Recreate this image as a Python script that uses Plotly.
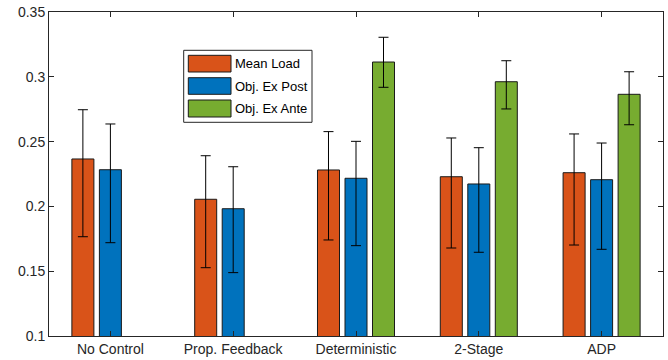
import plotly.graph_objects as go

categories = ["No Control", "Prop. Feedback", "Deterministic", "2-Stage", "ADP"]
series_names = ["Mean Load", "Obj. Ex Post", "Obj. Ex Ante"]

mean_load = [0.2366, 0.2055, 0.2281, 0.2229, 0.2260]
mean_load_hi = [0.2746, 0.2391, 0.2577, 0.2528, 0.2559]
mean_load_lo = [0.1766, 0.1527, 0.1741, 0.1679, 0.1702]

ex_post = [0.2283, 0.1982, 0.2217, 0.2173, 0.2206]
ex_post_hi = [0.2636, 0.2306, 0.2502, 0.2453, 0.2489]
ex_post_lo = [0.1720, 0.1489, 0.1697, 0.1646, 0.1669]

ex_ante = [None, None, 0.3114, 0.2962, 0.2865]
ex_ante_hi = [None, None, 0.3305, 0.3124, 0.3039]
ex_ante_lo = [None, None, 0.2919, 0.2752, 0.2630]

y_ticks = [0.1, 0.15, 0.2, 0.25, 0.3, 0.35]
y_tick_labels = ["0.1", "0.15", "0.2", "0.25", "0.3", "0.35"]

colors = ["#D95319", "#0072BD", "#77AC30"]

fig = go.Figure()
data = [(mean_load, mean_load_hi, mean_load_lo),
        (ex_post, ex_post_hi, ex_post_lo),
        (ex_ante, ex_ante_hi, ex_ante_lo)]
for name, (v, hi, lo), c in zip(series_names, data, colors):
    plus = [None if a is None else h - a for a, h in zip(v, hi)]
    minus = [None if a is None else a - l for a, l in zip(v, lo)]
    fig.add_trace(go.Bar(
        x=categories, y=v, name=name,
        marker=dict(color=c, line=dict(color="#1a1a1a", width=1)),
        error_y=dict(type="data", symmetric=False, array=plus, arrayminus=minus,
                     color="#000000", thickness=1, width=5),
        showlegend=False,
    ))

# manual MATLAB-style legend
lx0, lx1 = 183.7, 312.0
ly0, ly1 = 50.3, 122.3
W, H = 668, 360
ml, mr, mt, mb = 49, 5, 12, 24
pw, ph = W - ml - mr, H - mt - mb

def px(x):
    return (x - ml) / pw

def py(y):
    return 1 - (y - mt) / ph

fig.add_shape(type="rect", xref="paper", yref="paper",
              x0=px(lx0), x1=px(lx1), y0=py(ly1), y1=py(ly0),
              line=dict(color="#262626", width=1), fillcolor="white")
rows = [(55.3, 72.0), (77.7, 94.3), (100.0, 117.0)]
for name, c, (r0, r1) in zip(series_names, colors, rows):
    fig.add_shape(type="rect", xref="paper", yref="paper",
                  x0=px(188.3), x1=px(231.0), y0=py(r1), y1=py(r0),
                  line=dict(color="#1a1a1a", width=1), fillcolor=c)
    fig.add_annotation(xref="paper", yref="paper", x=px(233), y=py((r0 + r1) / 2),
                       text=name, showarrow=False, xanchor="left", yanchor="middle",
                       font=dict(family="Liberation Sans, Arial", size=13, color="#000000"))

axis_common = dict(showline=True, linecolor="#262626", linewidth=1, mirror="ticks",
                   ticks="inside", ticklen=5, tickcolor="#262626", showgrid=False,
                   zeroline=False, automargin=False,
                   tickfont=dict(family="Liberation Sans, Arial", size=14, color="#262626"))

fig.update_layout(
    width=W, height=H,
    margin=dict(l=ml, r=mr, t=mt, b=mb),
    paper_bgcolor="white", plot_bgcolor="white",
    barmode="group", bargap=0.328, bargroupgap=0.2,
    xaxis=dict(range=[-0.5, 4.5], **axis_common),
    yaxis=dict(range=[0.1, 0.35], tickvals=y_ticks, ticktext=y_tick_labels, **axis_common),
)

fig.write_html("out.html", config={"displayModeBar": False},
               post_script="document.body.style.margin='0';document.body.style.overflow='hidden';")
